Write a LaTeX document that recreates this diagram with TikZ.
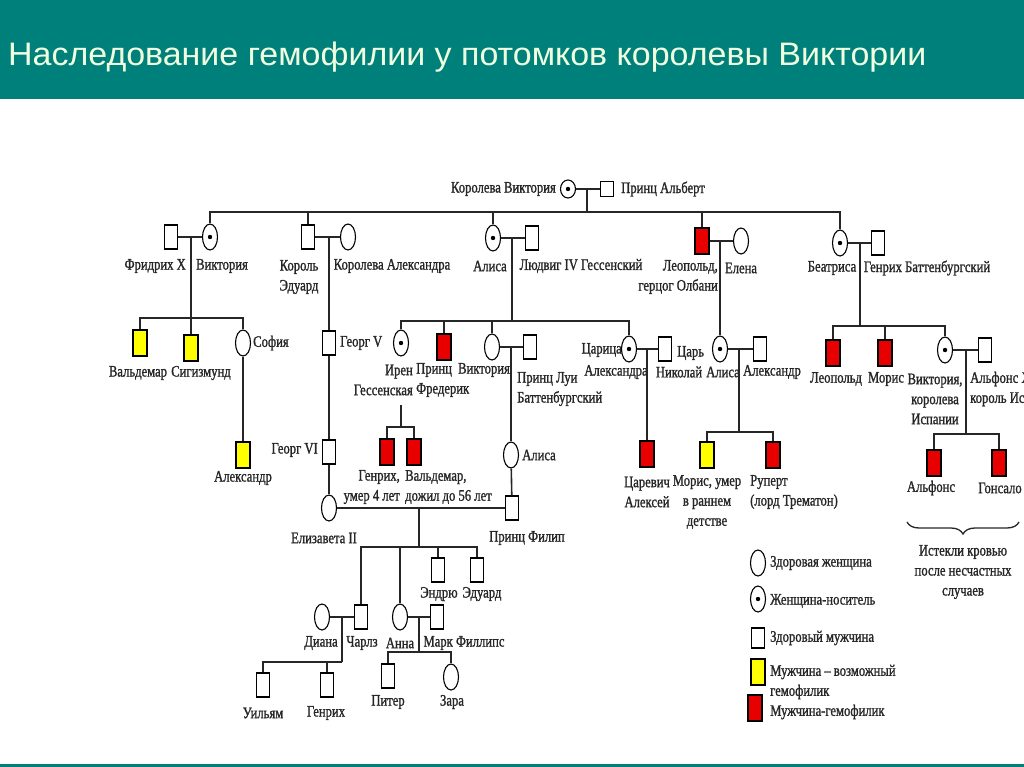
\documentclass[tikz,border=0pt]{standalone}
\usepackage{fontspec}
\setmainfont{Liberation Serif}
\newfontfamily\lblfont[FakeStretch=0.79,FakeBold=1.2]{Liberation Serif}
\newfontfamily\ttlfont[FakeStretch=1.045]{Liberation Sans}
\usetikzlibrary{shapes.geometric,decorations.pathreplacing}
\definecolor{headteal}{RGB}{0,128,122}
\definecolor{headtext}{RGB}{240,255,224}
\definecolor{illred}{RGB}{232,0,0}
\definecolor{maybeyel}{RGB}{255,255,0}
\tikzset{
	person/.style={draw=black,line width=1.1pt,inner sep=0pt,fill=white},
	fem/.style={person,ellipse,minimum width=15pt,minimum height=26pt},
	carr/.style={fem,path picture={\fill[black] (path picture bounding box.center) circle (2.2pt);}},
	male/.style={person,rectangle,minimum width=13pt,minimum height=24pt},
	ill/.style={male,fill=illred,line width=1.5pt,minimum width=14pt,minimum height=26pt},
	maybe/.style={ill,fill=maybeyel},
	link/.style={line width=1.6pt,black!85},
	lbl/.style={font=\lblfont\fontsize{16}{20}\selectfont,inner sep=0pt,text=black!85},
}

\begin{document}
\begin{tikzpicture}[x=1pt,y=-1pt]
	\useasboundingbox (0,0) rectangle (1024,767);
	\clip (0,0) rectangle (1024,767);
	
	%header
	\fill[headteal] (0,0) rectangle (1024,99);
	\fill[headteal] (0,764) rectangle (1024,767);
	\node[anchor=base west,inner sep=0pt,text=headtext,font=\ttlfont\fontsize{32.5}{38}\selectfont] (title) at (8,66) {Наследование гемофилии у потомков королевы Виктории};
	
	%generation 1
	\node[carr,minimum height=18pt] (qv) at (568,189) {};
	\node[male,minimum height=15pt] (pa) at (607,189) {};
	\node[lbl,anchor=east] (lqv) at (556,189) {Королева Виктория};
	\node[lbl,anchor=west] (lpa) at (621,189) {Принц Альберт};
	\coordinate (m0) at (587,189);
	\coordinate (b0) at (587,212);
	\draw[link] (qv) -- (pa);
	\draw[link] (m0) -- (b0);
	
	%generation 2
	\node[male] (fr) at (171,237) {};
	\node[carr] (vic) at (210,237) {};
	\node[male] (edw) at (308,237) {};
	\node[fem] (alx) at (348,237) {};
	\node[carr] (ali) at (493,238) {};
	\node[male] (lud) at (532,238) {};
	\node[ill] (leo) at (702,241) {};
	\node[fem] (ele) at (741,241) {};
	\node[carr] (bea) at (840,243) {};
	\node[male] (hen) at (878,243) {};
	\draw[link] (vic) |- (b0) -| (bea);
	\draw[link] (edw) -- (edw |- b0);
	\draw[link] (ali) -- (ali |- b0);
	\draw[link] (leo) -- (leo |- b0);
	\draw[link] (fr) -- (vic);
	\draw[link] (edw) -- (alx);
	\draw[link] (ali) -- (lud);
	\draw[link] (leo) -- (ele);
	\draw[link] (bea) -- (hen);
	
	\node[lbl,anchor=east] (lfr) at (186,266) {Фридрих X};
	\node[lbl] (lvic) at (222,266) {Виктория};
	\node[lbl,align=center] (ledw) at (299,277) {Король\\Эдуард};
	\node[lbl] (lalx) at (392,266) {Королева Александра};
	\node[lbl] (lali) at (490,266) {Алиса};
	\node[lbl] (llud) at (581,266) {Людвиг IV Гессенский};
	\node[lbl,anchor=east,align=right] (lleo) at (718,277) {Леопольд,\\герцог Олбани};
	\node[lbl] (lele) at (741,268) {Елена};
	\node[lbl] (lbea) at (832,268) {Беатриса};
	\node[lbl] (lhen) at (927,268) {Генрих Баттенбургский};
	
	%generation 3: Victoria + Friedrich
	\coordinate (m1) at (191,237);
	\coordinate (b1) at (191,318);
	\node[maybe] (val) at (140,343) {};
	\node[maybe] (sig) at (191,348) {};
	\node[fem] (sof) at (243,343) {};
	\node[maybe] (aln) at (243,455) {};
	\draw[link] (m1) -- (b1);
	\draw[link] (val) |- (b1) -| (sof);
	\draw[link] (sig) -- (sig |- b1);
	\draw[link] (sof) -- (aln);
	\node[lbl] (lval) at (138,373) {Вальдемар};
	\node[lbl] (lsig) at (201,373) {Сигизмунд};
	\node[lbl,anchor=west] (lsof) at (253,343) {София};
	\node[lbl] (laln) at (243,478) {Александр};
	
	%Edward line
	\coordinate (m2) at (329,237);
	\node[male] (g5) at (329,343) {};
	\node[male] (g6) at (329,452) {};
	\node[fem] (eli) at (329,508) {};
	\node[male] (phi) at (512,508) {};
	\draw[link] (m2) -- (g5);
	\draw[link] (g5) -- (g6);
	\draw[link] (g6) -- (eli);
	\draw[link] (eli) -- (phi);
	\node[lbl,anchor=west] (lg5) at (340,343) {Георг V};
	\node[lbl,anchor=east] (lg6) at (318,450) {Георг VI};
	\node[lbl] (leli) at (324,538) {Елизавета II};
	\node[lbl] (lphi) at (527,538) {Принц Филип};
	
	%Alice + Ludwig
	\coordinate (m3) at (512,238);
	\coordinate (b3) at (512,321);
	\node[carr] (ire) at (401,343) {};
	\node[ill] (fre) at (444,347) {};
	\node[fem] (vim) at (492,347) {};
	\node[male] (lou) at (530,347) {};
	\node[carr] (tsa) at (629,349) {};
	\node[male] (nic) at (665,349) {};
	\draw[link] (m3) -- (b3);
	\draw[link] (ire) |- (b3) -| (tsa);
	\draw[link] (fre) -- (fre |- b3);
	\draw[link] (vim) -- (vim |- b3);
	\draw[link] (vim) -- (lou);
	\draw[link] (tsa) -- (nic);
	\node[lbl,anchor=east,align=right] (lire) at (413,380) {Ирен\\Гессенская};
	\node[lbl,anchor=west,align=left] (lfre) at (416,380) {Принц\\Фредерик};
	\node[lbl] (lvim) at (484,370) {Виктория};
	\node[lbl,anchor=west,align=left] (llou) at (517,389) {Принц Луи\\Баттенбургский};
	\node[lbl,anchor=east] (ltsa) at (622,350) {Царица};
	\node[lbl] (ltsb) at (616,372) {Александра};
	\node[lbl,anchor=west] (lnic) at (677,353) {Царь};
	\node[lbl] (lnib) at (679,372) {Николай};
	
	%Irene's sons
	\coordinate (ir0) at (401,405);
	\coordinate (b10) at (401,427);
	\node[ill] (hnr) at (387,452) {};
	\node[ill] (wal) at (414,452) {};
	\draw[link] (ir0) -- (b10);
	\draw[link] (hnr) |- (b10) -| (wal);
	\node[lbl,anchor=east,align=right] (lhnr) at (400,487) {Генрих,\\умер 4 лет};
	\node[lbl,anchor=west,align=left] (lwal) at (405,487) {Вальдемар,\\дожил до 56 лет};
	
	%Victoria + Louis
	\coordinate (m6) at (511,347);
	\node[fem] (alb) at (511,455) {};
	\draw[link] (m6) -- (alb);
	\draw[link] (alb) -- (phi);
	\node[lbl,anchor=west] (lalb) at (522,455) {Алиса};
	
	%Tsar family
	\coordinate (m7) at (647,349);
	\node[ill] (alk) at (647,454) {};
	\draw[link] (m7) -- (alk);
	\node[lbl,align=center] (lalk) at (647,492) {Царевич\\Алексей};
	
	%Leopold + Elena
	\coordinate (m4) at (720,241);
	\node[carr] (al2) at (720,349) {};
	\node[male] (alr) at (760,349) {};
	\draw[link] (m4) -- (al2);
	\draw[link] (al2) -- (alr);
	\coordinate (m8) at (739,349);
	\coordinate (b8) at (739,432);
	\node[maybe] (mau) at (707,455) {};
	\node[ill] (rup) at (773,455) {};
	\draw[link] (m8) -- (b8);
	\draw[link] (mau) |- (b8) -| (rup);
	\node[lbl] (lal2) at (723,372) {Алиса};
	\node[lbl] (lalr) at (772,372) {Александр};
	\node[lbl,align=center] (lmau) at (707,502) {Морис, умер\\в раннем\\детстве};
	\node[lbl,anchor=west,align=left] (lrup) at (750,492) {Руперт\\(лорд Трематон)};
	
	%Beatrice + Henry
	\coordinate (m5) at (860,243);
	\coordinate (b5) at (860,326);
	\node[ill] (le2) at (833,353) {};
	\node[ill] (mo2) at (885,353) {};
	\node[carr] (veu) at (945,350) {};
	\node[male] (a13) at (985,350) {};
	\draw[link] (m5) -- (b5);
	\draw[link] (le2) |- (b5) -| (veu);
	\draw[link] (mo2) -- (mo2 |- b5);
	\draw[link] (veu) -- (a13);
	\node[lbl] (lle2) at (836,379) {Леопольд};
	\node[lbl] (lmo2) at (886,379) {Морис};
	\node[lbl,align=center] (lveu) at (935,399) {Виктория,\\королева\\Испании};
	\node[lbl,anchor=west,align=left] (la13) at (970,389) {Альфонс XIII\\король Испании};
	
	\coordinate (m9) at (966,350);
	\coordinate (b9) at (966,434);
	\node[ill] (alf) at (934,463) {};
	\node[ill] (gon) at (999,463) {};
	\draw[link] (m9) -- (b9);
	\draw[link] (alf) |- (b9) -| (gon);
	\node[lbl] (lalf) at (931,488) {Альфонс};
	\node[lbl] (lgon) at (1000,488) {Гонсало};
	\draw[line width=1.3pt,black!85,decorate,decoration={brace,mirror,amplitude=12pt}] (907,522) -- (1019,522);
	\node[lbl,align=center] (lbr) at (963,572) {Истекли кровью\\после несчастных\\случаев};
	
	%Elizabeth + Philip
	\coordinate (m11) at (419,508);
	\coordinate (b11) at (419,547);
	\node[male] (cha) at (361,617) {};
	\node[fem] (ann) at (400,617) {};
	\node[male] (and) at (438,570) {};
	\node[male] (edd) at (477,570) {};
	\draw[link] (m11) -- (b11);
	\draw[link] (cha) |- (b11) -| (edd);
	\draw[link] (ann) -- (ann |- b11);
	\draw[link] (and) -- (and |- b11);
	\node[lbl] (land) at (439,594) {Эндрю};
	\node[lbl] (ledd) at (482,594) {Эдуард};
	
	\node[fem] (dia) at (322,617) {};
	\node[male] (mar) at (437,617) {};
	\draw[link] (dia) -- (cha);
	\draw[link] (ann) -- (mar);
	\node[lbl] (ldia) at (321,643) {Диана};
	\node[lbl] (lcha) at (362,643) {Чарлз};
	\node[lbl] (lann) at (400,643) {Анна};
	\node[lbl] (lmar) at (464,643) {Марк Филлипс};
	
	\coordinate (m12) at (342,617);
	\coordinate (b12) at (342,662);
	\node[male] (wil) at (263,685) {};
	\node[male] (har) at (327,685) {};
	\draw[link] (m12) -- (b12);
	\draw[link] (wil) |- (b12) -| (har);
	\node[lbl] (lwil) at (263,713) {Уильям};
	\node[lbl] (lhar) at (326,713) {Генрих};
	
	\coordinate (m13) at (419,617);
	\coordinate (b13) at (419,652);
	\node[male] (pet) at (388,676) {};
	\node[fem] (zar) at (451,677) {};
	\draw[link] (m13) -- (b13);
	\draw[link] (pet) |- (b13) -| (zar);
	\node[lbl] (lpet) at (388,702) {Питер};
	\node[lbl] (lzar) at (452,702) {Зара};
	
	%legend
	\node[fem] (k1) at (758,563) {};
	\node[carr] (k2) at (758,599) {};
	\node[male,minimum height=20pt] (k3) at (758,638) {};
	\node[maybe] (k4) at (758,672) {};
	\node[ill] (k5) at (755,708) {};
	\node[lbl,anchor=west] (t1) at (770,563) {Здоровая женщина};
	\node[lbl,anchor=west] (t2) at (770,601) {Женщина-носитель};
	\node[lbl,anchor=west] (t3) at (770,638) {Здоровый мужчина};
	\node[lbl,anchor=west,align=left] (t4) at (770,682) {Мужчина – возможный\\гемофилик};
	\node[lbl,anchor=west] (t5) at (770,712) {Мужчина-гемофилик};
\end{tikzpicture}
\end{document}
